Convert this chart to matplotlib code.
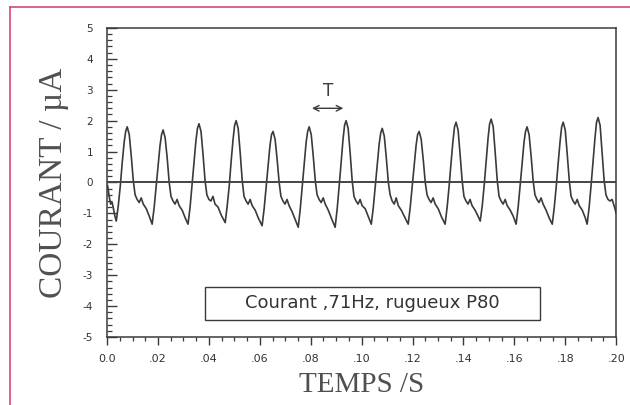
"""Courant mesuré sur surface rugueuse P80, excitation 71 Hz."""
import matplotlib

matplotlib.use("Agg")
import matplotlib.pyplot as plt
import matplotlib.ticker as mticker
from matplotlib.lines import Line2D
from matplotlib.patches import Rectangle

# ── Data (temps en s, courant en µA) ──────────────────
time_s = [
    0.0002, 0.0008, 0.0014, 0.0020, 0.0026, 0.0031,
    0.0036, 0.0044, 0.0052, 0.0059, 0.0067, 0.0073, 0.0079, 0.0087, 0.0095, 0.0103, 0.0110, 0.0118, 0.0126, 0.0134, 0.0142, 0.0154, 0.0166,
    0.0177, 0.0185, 0.0193, 0.0200, 0.0208, 0.0214, 0.0220, 0.0228, 0.0236, 0.0244, 0.0251, 0.0259, 0.0267, 0.0275, 0.0283, 0.0295, 0.0307,
    0.0318, 0.0326, 0.0334, 0.0341, 0.0349, 0.0355, 0.0361, 0.0369, 0.0377, 0.0385, 0.0392, 0.0400, 0.0408, 0.0416, 0.0424, 0.0436, 0.0448,
    0.0464, 0.0472, 0.0480, 0.0487, 0.0495, 0.0501, 0.0507, 0.0515, 0.0523, 0.0531, 0.0538, 0.0546, 0.0554, 0.0562, 0.0570, 0.0582, 0.0594,
    0.0609, 0.0617, 0.0625, 0.0632, 0.0640, 0.0646, 0.0652, 0.0660, 0.0668, 0.0676, 0.0683, 0.0691, 0.0699, 0.0707, 0.0715, 0.0727, 0.0739,
    0.0751, 0.0759, 0.0767, 0.0774, 0.0782, 0.0788, 0.0794, 0.0802, 0.0810, 0.0818, 0.0825, 0.0833, 0.0841, 0.0849, 0.0857, 0.0869, 0.0881,
    0.0896, 0.0904, 0.0912, 0.0919, 0.0927, 0.0933, 0.0939, 0.0947, 0.0955, 0.0963, 0.0970, 0.0978, 0.0986, 0.0994, 0.1002, 0.1014, 0.1026,
    0.1038, 0.1046, 0.1054, 0.1061, 0.1069, 0.1075, 0.1081, 0.1089, 0.1097, 0.1105, 0.1112, 0.1120, 0.1128, 0.1136, 0.1144, 0.1156, 0.1168,
    0.1183, 0.1191, 0.1199, 0.1206, 0.1214, 0.1220, 0.1226, 0.1234, 0.1242, 0.1250, 0.1257, 0.1265, 0.1273, 0.1281, 0.1289, 0.1301, 0.1313,
    0.1328, 0.1336, 0.1344, 0.1351, 0.1359, 0.1365, 0.1371, 0.1379, 0.1387, 0.1395, 0.1402, 0.1410, 0.1418, 0.1426, 0.1434, 0.1446, 0.1458,
    0.1466, 0.1474, 0.1482, 0.1489, 0.1497, 0.1503, 0.1509, 0.1517, 0.1525, 0.1533, 0.1540, 0.1548, 0.1556, 0.1564, 0.1572, 0.1584, 0.1596,
    0.1607, 0.1615, 0.1623, 0.1630, 0.1638, 0.1644, 0.1650, 0.1658, 0.1666, 0.1674, 0.1681, 0.1689, 0.1697, 0.1705, 0.1713, 0.1725, 0.1737,
    0.1749, 0.1757, 0.1765, 0.1772, 0.1780, 0.1786, 0.1792, 0.1800, 0.1808, 0.1816, 0.1823, 0.1831, 0.1839, 0.1847, 0.1855, 0.1867, 0.1879,
    0.1886, 0.1894, 0.1902, 0.1909, 0.1917, 0.1923, 0.1929, 0.1937, 0.1945, 0.1953, 0.1960, 0.1968, 0.1976, 0.1984, 0.1992, 0.2000,
]
current_ua = [
    -0.10, -0.45, -0.70, -0.65, -0.90, -1.10,
    -1.25, -0.75, -0.10, 0.60, 1.30, 1.65, 1.80, 1.55, 0.85, 0.05, -0.40, -0.55, -0.65, -0.50, -0.70, -0.85, -1.10,
    -1.35, -0.80, -0.10, 0.55, 1.20, 1.55, 1.70, 1.45, 0.80, 0.00, -0.45, -0.60, -0.70, -0.55, -0.75, -0.90, -1.15,
    -1.35, -0.80, -0.05, 0.60, 1.35, 1.75, 1.90, 1.65, 0.90, 0.05, -0.40, -0.55, -0.60, -0.45, -0.70, -0.80, -1.05,
    -1.30, -0.75, -0.10, 0.65, 1.40, 1.85, 2.00, 1.75, 0.95, 0.05, -0.45, -0.60, -0.70, -0.55, -0.75, -0.90, -1.15,
    -1.40, -0.85, -0.15, 0.50, 1.20, 1.55, 1.65, 1.40, 0.75, 0.00, -0.45, -0.60, -0.70, -0.55, -0.75, -0.95, -1.20,
    -1.45, -0.85, -0.10, 0.55, 1.30, 1.65, 1.80, 1.55, 0.85, 0.05, -0.40, -0.55, -0.65, -0.50, -0.70, -0.90, -1.15,
    -1.45, -0.85, -0.10, 0.60, 1.40, 1.85, 2.00, 1.75, 0.95, 0.05, -0.45, -0.60, -0.70, -0.55, -0.75, -0.85, -1.10,
    -1.35, -0.80, -0.10, 0.55, 1.25, 1.60, 1.75, 1.50, 0.80, 0.00, -0.40, -0.60, -0.70, -0.50, -0.75, -0.90, -1.10,
    -1.35, -0.80, -0.10, 0.50, 1.20, 1.55, 1.65, 1.40, 0.75, 0.00, -0.40, -0.55, -0.65, -0.50, -0.70, -0.85, -1.10,
    -1.35, -0.80, -0.10, 0.60, 1.35, 1.80, 1.95, 1.70, 0.90, 0.05, -0.45, -0.60, -0.70, -0.55, -0.75, -0.90, -1.10,
    -1.25, -0.75, -0.05, 0.65, 1.45, 1.90, 2.05, 1.80, 0.95, 0.05, -0.45, -0.60, -0.70, -0.55, -0.75, -0.90, -1.10,
    -1.35, -0.80, -0.10, 0.55, 1.30, 1.65, 1.80, 1.55, 0.85, 0.05, -0.40, -0.55, -0.65, -0.50, -0.70, -0.90, -1.15,
    -1.35, -0.80, -0.10, 0.60, 1.35, 1.80, 1.95, 1.70, 0.90, 0.05, -0.45, -0.60, -0.70, -0.55, -0.75, -0.90, -1.15,
    -1.35, -0.80, -0.05, 0.65, 1.45, 1.95, 2.10, 1.85, 0.95, 0.05, -0.40, -0.55, -0.60, -0.55, -0.75, -1.00,
]

x_ticks = [0.0, 0.02, 0.04, 0.06, 0.08, 0.10, 0.12, 0.14, 0.16, 0.18, 0.20]
x_tick_labels = ["0.0", ".02", ".04", ".06", ".08", ".10", ".12", ".14", ".16", ".18", ".20"]
y_ticks = [5, 4, 3, 2, 1, 0, -1, -2, -3, -4, -5]

period_start, period_end = 0.0794, 0.0939   # flèche T : une période
caption = "Courant ,71Hz, rugueux P80"

INK = "#3a3a3a"

fig = plt.figure(figsize=(6.3, 4.05), dpi=100)
fig.patch.set_facecolor("white")
ax = fig.add_axes([0.170, 0.168, 0.808, 0.763])

ax.plot(time_s, current_ua, color=INK, lw=1.2, solid_joinstyle="round")
ax.axhline(0, color="#444444", lw=1.4)

ax.set_xlim(0, 0.20)
ax.set_ylim(-5, 5)

for side in ("left", "right", "top", "bottom"):
    ax.spines[side].set_color(INK)
    ax.spines[side].set_linewidth(1.1)

ax.set_xticks(x_ticks)
ax.set_xticklabels(x_tick_labels)
ax.xaxis.set_minor_locator(mticker.MultipleLocator(0.005))
ax.set_yticks(y_ticks)
ax.set_yticklabels([str(v) for v in y_ticks])
ax.yaxis.set_minor_locator(mticker.MultipleLocator(0.2))

ax.tick_params(axis="x", which="major", direction="out", length=6, width=1,
               color=INK, labelsize=8, labelcolor="#333333", pad=6)
ax.tick_params(axis="x", which="minor", direction="out", length=3, width=0.9, color=INK)
ax.tick_params(axis="y", which="major", direction="in", length=7, width=1,
               color=INK, labelsize=7.5, labelcolor="#333333", pad=10)
ax.tick_params(axis="y", which="minor", direction="in", length=3.5, width=0.9, color=INK)

ax.set_xlabel("TEMPS /S", family="Liberation Serif", fontsize=21, color="#505050", labelpad=6)
ax.set_ylabel("COURANT / µA", family="Liberation Serif", fontsize=24, color="#505050", labelpad=10)

# flèche de période
ax.annotate("", xy=(period_start, 2.4), xytext=(period_end, 2.4),
            arrowprops=dict(arrowstyle="<->", color=INK, lw=1.0, mutation_scale=10))
ax.text((period_start + period_end) / 2, 2.95, "T", ha="center", va="center",
        fontsize=12, color=INK, family="DejaVu Sans")

# légende encadrée
ax.add_patch(Rectangle((0.0385, -4.45), 0.1315, 1.08, fill=False, edgecolor=INK, lw=1.0))
ax.text(0.1043, -3.9, caption, ha="center", va="center", fontsize=13,
        color="#333333", family="DejaVu Sans")

# cadre rose
fig.add_artist(Line2D([0.016, 1.0], [0.983, 0.983], color="#d8486e", lw=1.2))
fig.add_artist(Line2D([0.016, 0.016], [0.0, 0.983], color="#d8486e", lw=1.2))

fig.savefig("out.png", dpi=100, facecolor="white")
